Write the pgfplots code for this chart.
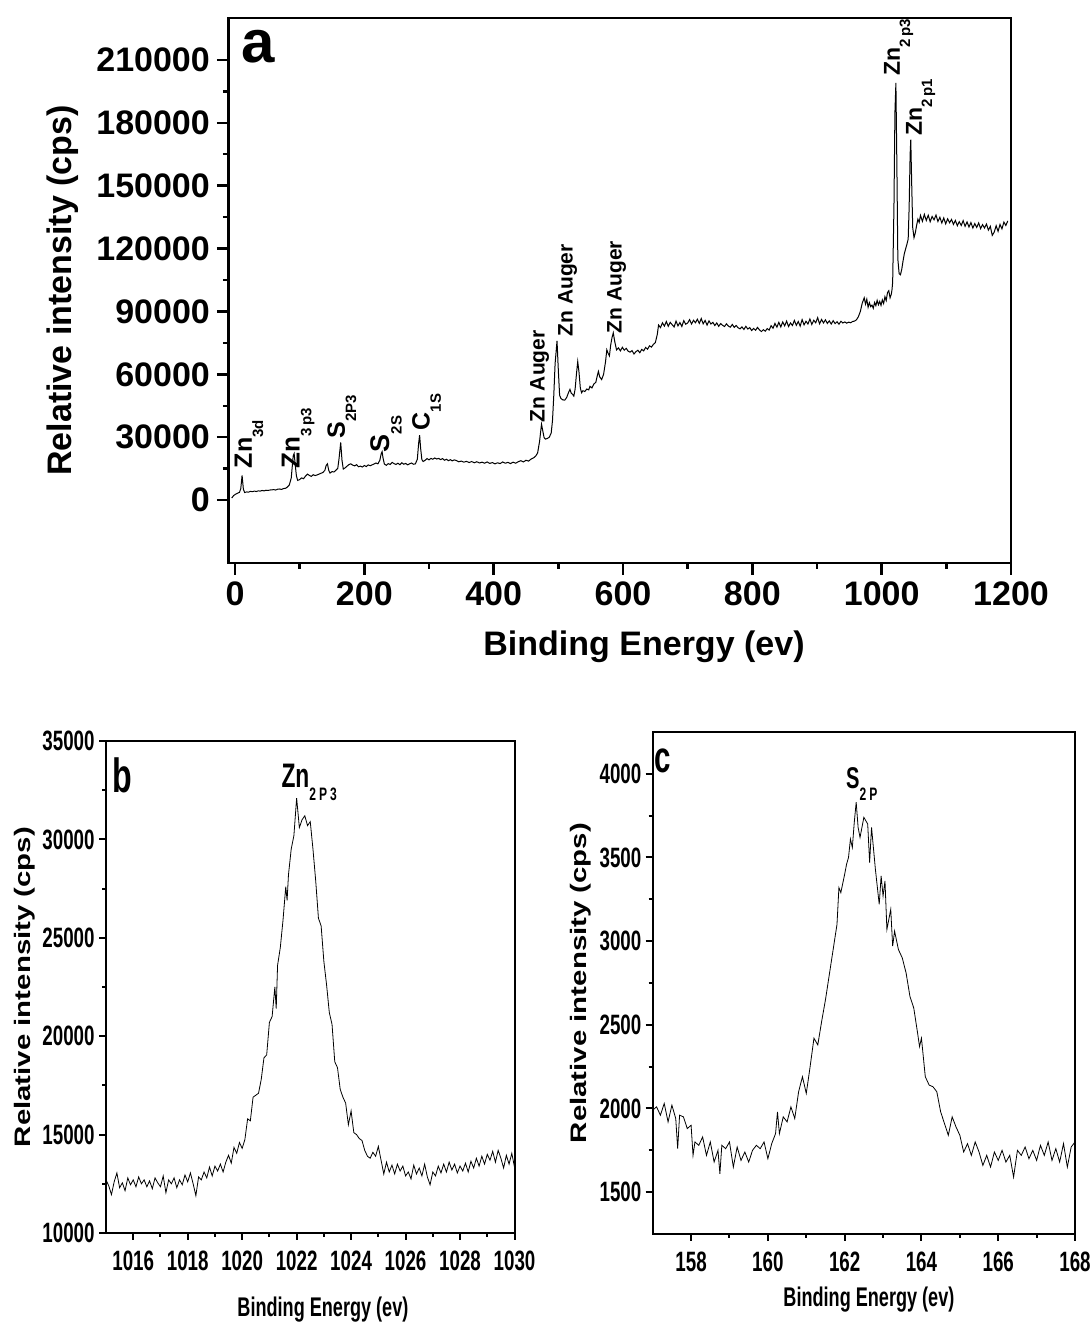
\documentclass[border=0pt]{standalone}
\usepackage{fontspec}
\setmainfont{Liberation Sans}
\newfontfamily\nar{Liberation Sans}[FakeStretch=0.67]
\usepackage{graphicx}
\usepackage{pgfplots}
\pgfplotsset{compat=1.18}

\newcommand\sub[1]{\raisebox{-0.45em}{\fontsize{7.5}{8}\selectfont #1}}
\newcommand\subn[1]{\raisebox{-0.4em}{\fontsize{9}{10}\selectfont #1}}

\pgfplotsset{
  xps/.style={
    scale only axis, clip=false,
    tick align=outside, xtick pos=bottom, ytick pos=left,
    scaled ticks=false,
    /pgf/number format/.cd, fixed, 1000 sep={}, assume math mode=true, /pgfplots/.cd,
    tick style={black},
  },
}

\begin{document}
\begin{tikzpicture}
\useasboundingbox (0,0) rectangle (545.5pt,662.5pt);

% ---------- a: survey ----------
\begin{axis}[xps,
  at={(114.25pt,381pt)}, anchor=south west,
  width=391.25pt, height=272.5pt,
  xmin=-10, xmax=1200, ymin=-30000, ymax=230000,
  xtick={0,200,...,1200}, ytick={0,30000,...,210000},
  minor x tick num=1, minor y tick num=1,
  major tick length=5.8pt, minor tick length=2.8pt,
  tick style={line width=1.2pt},
  axis line style={line width=1.3pt},
  ticklabel style={font=\bfseries\fontsize{17}{20}\selectfont},
  xlabel={Binding Energy (ev)}, ylabel={Relative intensity (cps)},
  label style={font=\bfseries\fontsize{17}{20}\selectfont},
  xlabel style={at={(axis description cs:0.531,-0.154)}, anchor=center},
  ylabel style={at={(axis description cs:-0.2115,0.5)}, anchor=center},
]
\addplot[black, line width=0.5pt] coordinates {
(-5,1000) (-2,2200) (1,2800) (4,3300) (7,3700) (9,5500) (11,11800) (13,5200) (15,3600)
(18,3900) (21,3800) (24,4200) (27,4000) (30,4300) (33,4100) (36,4400) (39,4300) (42,4600)
(45,4400) (48,4700) (51,4600) (54,4800) (57,4900) (60,5000) (63,4800) (66,5200) (69,5300)
(72,5100) (75,5500) (78,5600) (81,6200) (84,7200) (87,10500) (90,21000) (91.5,22200)
(93,17500) (95,11500) (97,9400) (100,9800) (103,10600) (106,10200) (109,11400) (112,12400)
(115,11800) (118,11300) (121,12100) (124,11700) (127,12000) (130,12400) (133,12800)
(136,13200) (139,14200) (141,16500) (143,17300) (145,14200) (147,12900) (150,13600)
(153,13400) (156,14200) (159,15200) (161,20000) (163.5,27500) (165.5,19000) (167.5,14800)
(170,15300) (173,16100) (176,16900) (179,17300) (182,16700) (185,16300) (188,16900)
(191,15900) (194,16200) (197,15800) (200,16500) (203,16000) (206,16800) (209,16400)
(212,16800) (215,17200) (218,17700) (221,17300) (224,19000) (226,22000) (227.5,23100)
(229,20000) (231,17200) (234,16600) (237,17400) (240,17000) (243,18000) (246,17400)
(249,17000) (252,17600) (255,16900) (258,17800) (261,17100) (264,17500) (267,16800)
(270,17300) (273,17700) (276,17100) (279,17300) (282,19500) (284,27000) (285.5,31000)
(287,25000) (289,19300) (291,18400) (294,19000) (297,19800) (300,19200) (303,19900)
(306,19500) (309,20100) (312,19600) (315,19900) (318,19300) (321,19800) (324,19000)
(327,19500) (330,18800) (333,19300) (336,18700) (339,19200) (342,18900) (346,18300)
(350,18600) (354,18100) (358,18500) (362,17900) (366,18400) (370,17800) (374,18300)
(378,17700) (382,18100) (386,17600) (390,18200) (394,17500) (398,17900) (402,17300)
(406,17800) (410,17400) (414,18200) (418,17600) (422,18000) (426,17400) (430,18100)
(434,17600) (438,18300) (442,18800) (446,18200) (450,19000) (454,18600) (458,19600)
(462,20200) (465,21000) (468,22500) (471,28000) (474,36200) (476,33000) (478,29800)
(480,29100) (483,29400) (486,30000) (489,32000) (491,38000) (493,50000) (495,65000)
(498,76000) (500,62000) (502,50000) (504,48500) (507,47800) (510,47700) (513,49000)
(516,51500) (518,52800) (520,51000) (522,50500) (524,49600) (526,53000) (528,60000)
(530,66100) (532,61000) (534,53500) (536,51200) (538,52200) (541,51800) (544,53000)
(547,52600) (549,54300) (552,53500) (555,55400) (558,56200) (560,59000) (562,61400)
(564,58800) (567,57500) (570,60000) (573,66000) (575,71700) (577,70000) (579,68800)
(581,74000) (583,77500) (585,79800) (587,76000) (590,71700) (593,72600) (596,71200)
(599,72900) (602,71500) (605,72400) (608,71000) (611,70600) (614,71300) (617,69700)
(620,70800) (623,71500) (626,70300) (629,71900) (632,71200) (635,72800) (638,72000)
(641,73600) (644,73000) (647,74300) (650,75100) (653,79000) (655,83500) (658,82300)
(661,84600) (664,83000) (667,85200) (670,82900) (673,84800) (676,83700) (679,82600)
(682,85400) (685,83100) (688,84700) (691,82800) (694,85600) (697,83900) (700,84500)
(703,86100) (706,84000) (709,85800) (712,84600) (715,86300) (718,84300) (721,86600)
(724,84100) (727,85700) (730,83500) (733,85500) (736,84000) (739,84800) (742,83300)
(745,84500) (748,82900) (751,84200) (754,83400) (757,82800) (760,84100) (763,83000)
(766,82500) (769,83800) (772,82400) (775,83300) (778,82200) (781,81700) (784,82600)
(787,81400) (790,82900) (793,81600) (796,82300) (799,80900) (802,81900) (805,81000)
(808,82400) (811,81200) (814,80400) (817,81300) (820,80600) (823,81800) (826,81100)
(829,83200) (832,82000) (835,84300) (838,82500) (841,84800) (844,82600) (847,85000)
(850,83100) (853,85400) (856,82800) (859,84500) (862,83300) (865,85700) (868,83400)
(871,85200) (874,83000) (877,86100) (880,83600) (883,85300) (886,84000) (889,86400)
(892,83800) (895,85800) (898,84600) (901,87000) (904,84100) (907,86200) (910,84500)
(913,86000) (916,84300) (919,85500) (922,84000) (925,85600) (928,84200) (931,85100)
(934,83900) (937,85300) (940,84500) (943,85000) (946,84400) (949,84900) (952,84600)
(955,85200) (958,85400) (961,86000) (964,87500) (967,90000) (970,94000) (973,96500)
(975,93500) (977,95800) (979,92000) (981,94200) (983,92300) (985,93000) (987,91500)
(989,94300) (991,92800) (993,95300) (995,93200) (997,94800) (999,92900) (1001,95500)
(1003,93800) (1005,97000) (1007,95200) (1009,99000) (1011,99900) (1013,96500)
(1015,98300) (1016,100500) (1017,104000) (1019,140000) (1020.5,185000) (1022,199000)
(1023.5,160000) (1025,115000) (1027,108000) (1029,107500) (1031,110000) (1033,114000)
(1035,117500) (1037,119800) (1039,122000) (1041,124500) (1042.5,140000) (1044,165000)
(1045,172000) (1046.5,150000) (1048,130000) (1050,125200) (1052,127500) (1054,131000)
(1056,134000) (1058,132500) (1060,135800) (1063,133000) (1066,136300) (1069,133400)
(1072,135900) (1075,132800) (1078,135300) (1081,133700) (1084,136000) (1087,132900)
(1090,134900) (1093,132200) (1096,134600) (1099,131800) (1102,134200) (1105,132300)
(1108,133900) (1111,131500) (1114,133400) (1117,130900) (1120,132800) (1123,131000)
(1126,133300) (1129,130600) (1132,132700) (1135,130300) (1138,132400) (1141,129800)
(1144,131900) (1147,130100) (1150,132200) (1153,129500) (1156,131400) (1159,129800)
(1162,131700) (1165,128800) (1168,130600) (1171,126300) (1174,127800) (1177,130900)
(1180,128200) (1183,131500) (1186,129400) (1189,132600) (1192,131000) (1195,133200)
};
\node[anchor=base west, inner sep=0pt, font=\bfseries\fontsize{30}{34}\selectfont] at (axis cs:9,208800) {a};
\begin{scope}[every node/.style={rotate=90, anchor=base west, inner sep=0pt}]
\node[font=\bfseries\fontsize{12.5}{14}\selectfont] at (axis cs:26,15100) {Zn\sub{3d}};
\node[font=\bfseries\fontsize{13}{15}\selectfont] at (axis cs:100,15100) {Zn\sub{3\,p3}};
\node[font=\bfseries\fontsize{12.5}{14}\selectfont] at (axis cs:170,29300) {S\sub{2P3}};
\node[font=\bfseries\fontsize{13.5}{15}\selectfont] at (axis cs:239,22700) {S\sub{2S}};
\node[font=\bfseries\fontsize{12.5}{14}\selectfont] at (axis cs:301,33100) {C\sub{1S}};
\node[font=\bfseries\fontsize{10.5}{12}\selectfont] at (axis cs:479,36800) {Zn Auger};
\node[font=\bfseries\fontsize{10.5}{12}\selectfont] at (axis cs:522,77900) {Zn Auger};
\node[font=\bfseries\fontsize{10.5}{12}\selectfont] at (axis cs:598,79400) {Zn Auger};
\node[font=\bfseries\fontsize{11.5}{13}\selectfont] at (axis cs:1028,202200) {Zn\sub{2\,p3}};
\node[font=\bfseries\fontsize{11.5}{13}\selectfont] at (axis cs:1062,173800) {Zn\sub{2\,p1}};
\end{scope}
\end{axis}

% ---------- b: Zn 2p3 ----------
\begin{axis}[xps,
  at={(53pt,46pt)}, anchor=south west,
  width=204.25pt, height=246pt,
  xmin=1015, xmax=1030, ymin=10000, ymax=35000,
  xtick={1016,1018,...,1030}, ytick={10000,15000,...,35000},
  minor x tick num=1, minor y tick num=1,
  major tick length=3.5pt, minor tick length=2pt,
  tick style={line width=1pt},
  axis line style={line width=1pt},
  ticklabel style={font=\nar\bfseries\fontsize{14}{16}\selectfont, inner sep=2pt},
  xticklabel style={yshift=-3.5pt},
  xlabel={Binding Energy (ev)},
  ylabel={\scalebox{1.05}[0.8]{Relative intensity (cps)}},
  xlabel style={font=\nar\bfseries\fontsize{13.5}{16}\selectfont,
    at={(axis description cs:0.531,-0.156)}, anchor=center},
  ylabel style={font=\bfseries\fontsize{14}{16}\selectfont,
    at={(axis description cs:-0.198,0.5)}, anchor=center},
]
\addplot[black, line width=0.4pt] coordinates {
(1015.0,12700) (1015.1,12400) (1015.2,11950) (1015.3,12600) (1015.4,13050) (1015.5,12300)
(1015.6,12550) (1015.7,12150) (1015.8,12800) (1015.9,12450) (1016.0,12700) (1016.1,12350)
(1016.2,12850) (1016.3,12500) (1016.4,12700) (1016.5,12350) (1016.6,12650) (1016.7,12250)
(1016.8,12800) (1016.9,12550) (1017.0,12350) (1017.1,12900) (1017.2,12050) (1017.3,12700)
(1017.4,12500) (1017.5,12800) (1017.6,12300) (1017.7,12700) (1017.8,12450) (1017.9,12950)
(1018.0,12600) (1018.1,13050) (1018.2,12500) (1018.3,11900) (1018.4,12850) (1018.5,12700)
(1018.6,13100) (1018.7,12800) (1018.8,13350) (1018.9,12900) (1019.0,13400) (1019.1,13150)
(1019.2,13500) (1019.3,13100) (1019.4,13600) (1019.5,13950) (1019.6,13550) (1019.7,14350)
(1019.8,14050) (1019.9,14600) (1020.0,14300) (1020.1,14750) (1020.2,15800) (1020.3,15700)
(1020.4,16900) (1020.5,17000) (1020.6,17100) (1020.7,17800) (1020.8,18900) (1020.9,19050)
(1021.0,20700) (1021.1,21000) (1021.2,22500) (1021.25,21400) (1021.3,23600) (1021.4,24500)
(1021.5,25900) (1021.6,27600) (1021.65,26900) (1021.7,28200) (1021.8,29500) (1021.9,30200)
(1022.0,32100) (1022.1,30600) (1022.2,31000) (1022.3,31200) (1022.4,30700) (1022.5,30900)
(1022.6,29500) (1022.7,27900) (1022.8,26000) (1022.9,25600) (1023.0,23800) (1023.1,22600)
(1023.2,21200) (1023.3,20600) (1023.4,18700) (1023.5,18400) (1023.6,17300) (1023.7,16900)
(1023.8,16600) (1023.9,15500) (1024.0,16200) (1024.1,15100) (1024.2,15000) (1024.3,14800)
(1024.4,14700) (1024.5,14200) (1024.6,13900) (1024.7,13800) (1024.8,14100) (1024.9,13900)
(1025.0,14400) (1025.1,13700) (1025.2,13000) (1025.3,13600) (1025.4,13100) (1025.5,13450)
(1025.6,13000) (1025.7,13500) (1025.8,13150) (1025.9,13400) (1026.0,12900) (1026.1,13100)
(1026.2,12750) (1026.3,13450) (1026.4,13000) (1026.5,13300) (1026.6,12900) (1026.7,13500)
(1026.8,12850) (1026.9,12450) (1027.0,13100) (1027.1,12900) (1027.2,13400) (1027.3,13050)
(1027.4,13500) (1027.5,13100) (1027.6,13600) (1027.7,13200) (1027.8,13500) (1027.9,13050)
(1028.0,13400) (1028.1,13150) (1028.2,13550) (1028.3,13100) (1028.4,13650) (1028.5,13300)
(1028.6,13800) (1028.7,13400) (1028.8,13900) (1028.9,13500) (1029.0,14000) (1029.1,13700)
(1029.2,14150) (1029.3,13600) (1029.4,14200) (1029.5,13800) (1029.6,13300) (1029.7,13950)
(1029.8,13500) (1029.9,14050) (1030.0,13350)
};
\node[anchor=base west, inner sep=0pt, font=\nar\bfseries\fontsize{24}{28}\selectfont] at (axis cs:1015.22,32360) {b};
\node[anchor=base west, inner sep=0pt, font=\nar\bfseries\fontsize{17}{20}\selectfont] at (axis cs:1021.43,32660) {Zn\subn{2\,P\,3}};
\end{axis}

% ---------- c: S 2p ----------
\begin{axis}[xps,
  at={(326.35pt,45.5pt)}, anchor=south west,
  width=211.15pt, height=251pt,
  xmin=157, xmax=168, ymin=1250, ymax=4250,
  xtick={158,160,...,168}, ytick={1500,2000,...,4000},
  minor x tick num=1, minor y tick num=1,
  major tick length=3.5pt, minor tick length=2pt,
  tick style={line width=1pt},
  axis line style={line width=1pt},
  ticklabel style={font=\nar\bfseries\fontsize{14}{16}\selectfont, inner sep=2pt},
  xticklabel style={yshift=-3.5pt},
  xlabel={Binding Energy (ev)},
  ylabel={\scalebox{1.05}[0.8]{Relative intensity (cps)}},
  xlabel style={font=\nar\bfseries\fontsize{13.5}{16}\selectfont,
    at={(axis description cs:0.512,-0.13)}, anchor=center},
  ylabel style={font=\bfseries\fontsize{14}{16}\selectfont,
    at={(axis description cs:-0.17,0.5)}, anchor=center},
]
\addplot[black, line width=0.4pt] coordinates {
(157.0,1990) (157.1,2010) (157.2,1960) (157.3,2030) (157.4,1920) (157.5,2020) (157.6,1940)
(157.65,1760) (157.7,1960) (157.8,1950) (157.9,1880) (158.0,1900) (158.05,1720) (158.1,1800)
(158.2,1780) (158.3,1830) (158.4,1720) (158.5,1800) (158.6,1680) (158.7,1750) (158.75,1610)
(158.8,1780) (158.9,1760) (159.0,1800) (159.1,1650) (159.2,1770) (159.3,1690) (159.4,1740)
(159.5,1680) (159.6,1750) (159.7,1780) (159.8,1760) (159.9,1800) (160.0,1700) (160.1,1790)
(160.2,1850) (160.25,1980) (160.3,1850) (160.4,1950) (160.5,1920) (160.6,2010) (160.7,1940)
(160.8,2100) (160.9,2190) (161.0,2090) (161.1,2250) (161.2,2420) (161.3,2380) (161.4,2520)
(161.5,2650) (161.6,2800) (161.7,2950) (161.8,3100) (161.85,3320) (161.9,3290) (162.0,3400)
(162.05,3460) (162.1,3500) (162.15,3610) (162.2,3560) (162.25,3710) (162.3,3830) (162.35,3680)
(162.4,3620) (162.5,3740) (162.6,3700) (162.65,3470) (162.7,3680) (162.8,3430) (162.9,3220)
(162.95,3390) (163.0,3270) (163.05,3360) (163.1,3070) (163.2,3190) (163.25,2970) (163.3,3060)
(163.4,2950) (163.5,2900) (163.6,2810) (163.7,2670) (163.8,2600) (163.9,2450) (163.95,2370)
(164.0,2420) (164.1,2190) (164.2,2140) (164.3,2130) (164.4,2100) (164.5,1980) (164.6,1910)
(164.7,1840) (164.8,1950) (164.9,1890) (165.0,1840) (165.1,1740) (165.2,1790) (165.3,1720)
(165.4,1800) (165.5,1740) (165.6,1660) (165.7,1720) (165.8,1650) (165.9,1740) (166.0,1690)
(166.1,1750) (166.2,1680) (166.3,1720) (166.4,1590) (166.5,1750) (166.6,1720) (166.7,1770)
(166.8,1700) (166.9,1750) (167.0,1690) (167.1,1780) (167.2,1720) (167.3,1800) (167.4,1690)
(167.5,1760) (167.6,1680) (167.7,1790) (167.8,1650) (167.9,1770) (168.0,1800)
};
\node[anchor=base west, inner sep=0pt, font=\nar\bfseries\fontsize{22}{26}\selectfont] at (axis cs:157.03,4005) {c};
\node[anchor=base west, inner sep=0pt, font=\nar\bfseries\fontsize{15}{18}\selectfont] at (axis cs:162.03,3910) {S\subn{2\,P}};
\end{axis}
\end{tikzpicture}
\end{document}
